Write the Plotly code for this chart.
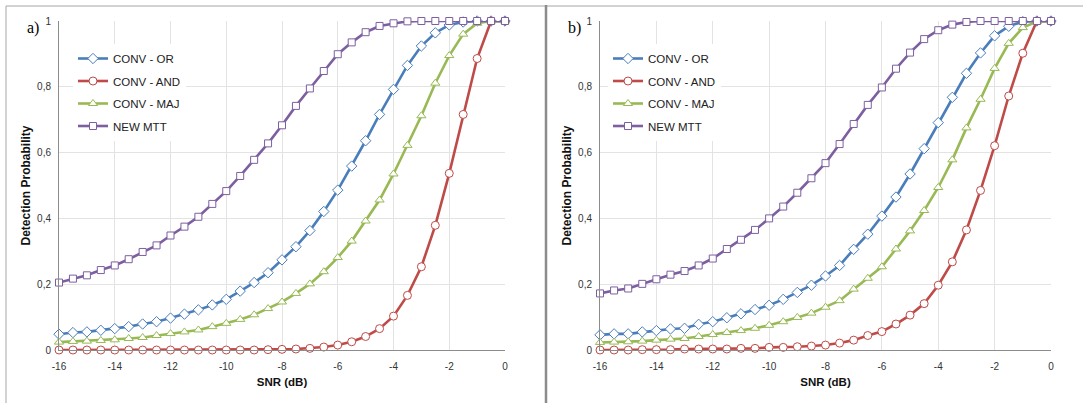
import plotly.graph_objects as go

# ---------------- data ----------------
snr = [-16, -15.5, -15, -14.5, -14, -13.5, -13, -12.5, -12, -11.5, -11, -10.5,
       -10, -9.5, -9, -8.5, -8, -7.5, -7, -6.5, -6, -5.5, -5, -4.5, -4, -3.5,
       -3, -2.5, -2, -1.5, -1, -0.5, 0]

series_names = ["CONV - OR", "CONV - AND", "CONV - MAJ", "NEW MTT"]

# panel a)
a_or = [0.048, 0.053, 0.055, 0.060, 0.065, 0.071, 0.079, 0.086, 0.097, 0.109, 0.122, 0.137,
        0.154, 0.179, 0.205, 0.235, 0.274, 0.314, 0.363, 0.421, 0.486, 0.559, 0.636, 0.716,
        0.792, 0.865, 0.924, 0.964, 0.988, 0.997, 1.0, 1.0, 1.0]
a_and = [0.0, 0.0, 0.0, 0.0, 0.0, 0.0, 0.0, 0.0, 0.0, 0.0, 0.0, 0.0,
         0.0, 0.0, 0.0, 0.001, 0.002, 0.003, 0.005, 0.009, 0.015, 0.025, 0.041, 0.065,
         0.103, 0.166, 0.253, 0.379, 0.537, 0.716, 0.886, 1.0, 1.0]
a_maj = [0.024, 0.026, 0.027, 0.029, 0.031, 0.035, 0.038, 0.044, 0.050, 0.055, 0.061, 0.071,
         0.081, 0.093, 0.107, 0.126, 0.146, 0.172, 0.201, 0.238, 0.281, 0.331, 0.392, 0.456,
         0.535, 0.622, 0.712, 0.811, 0.895, 0.960, 0.993, 1.0, 1.0]
a_mtt = [0.205, 0.217, 0.227, 0.243, 0.257, 0.276, 0.298, 0.318, 0.348, 0.375, 0.405, 0.444,
         0.483, 0.529, 0.578, 0.628, 0.683, 0.742, 0.795, 0.848, 0.899, 0.935, 0.966, 0.985,
         0.993, 0.999, 1.0, 1.0, 1.0, 1.0, 1.0, 1.0, 1.0]

# panel b)
b_or = [0.046, 0.049, 0.049, 0.055, 0.059, 0.064, 0.066, 0.078, 0.086, 0.098, 0.110, 0.123,
        0.136, 0.154, 0.175, 0.197, 0.225, 0.257, 0.306, 0.352, 0.407, 0.465, 0.535, 0.612,
        0.691, 0.768, 0.841, 0.903, 0.955, 0.984, 0.998, 1.0, 1.0]
b_and = [0.0, 0.0, 0.0, 0.001, 0.001, 0.001, 0.003, 0.003, 0.003, 0.003, 0.005, 0.005,
         0.008, 0.008, 0.010, 0.012, 0.015, 0.021, 0.030, 0.044, 0.056, 0.079, 0.106, 0.141,
         0.197, 0.268, 0.365, 0.485, 0.621, 0.772, 0.902, 1.0, 1.0]
b_maj = [0.023, 0.024, 0.025, 0.027, 0.030, 0.033, 0.035, 0.041, 0.047, 0.053, 0.059, 0.066,
         0.075, 0.086, 0.099, 0.112, 0.130, 0.150, 0.185, 0.218, 0.253, 0.307, 0.362, 0.424,
         0.494, 0.578, 0.675, 0.762, 0.856, 0.932, 0.980, 0.998, 1.0]
b_mtt = [0.172, 0.181, 0.187, 0.201, 0.215, 0.229, 0.240, 0.257, 0.278, 0.307, 0.335, 0.365,
         0.400, 0.436, 0.478, 0.522, 0.568, 0.626, 0.687, 0.745, 0.798, 0.855, 0.904, 0.945,
         0.972, 0.989, 0.997, 1.0, 1.0, 1.0, 1.0, 1.0, 1.0]

x_tickvals = [-16, -14, -12, -10, -8, -6, -4, -2, 0]
x_ticktext = ["-16", "-14", "-12", "-10", "-8", "-6", "-4", "-2", "0"]
y_tickvals = [0, 0.2, 0.4, 0.6, 0.8, 1.0]
y_ticktext = ["0", "0,2", "0,4", "0,6", "0,8", "1"]

panel_labels = ["a)", "b)"]
x_title = "SNR (dB)"
y_title = "Detection Probability"

# ---------------- style ----------------
W, H = 1083, 403
colors = ["#4A7EBB", "#BE4B48", "#98B954", "#7D5FA0"]
symbols = ["diamond", "circle", "triangle-up", "square"]
msizes = [8, 8, 8, 7]

def px_x(p):
    return p / W

def px_y(p):
    return 1 - p / H

fig = go.Figure()

panels = [
    (("x", "y"), "legend", [a_or, a_and, a_maj, a_mtt]),
    (("x2", "y2"), "legend2", [b_or, b_and, b_maj, b_mtt]),
]
for (xa, ya), leg, data in panels:
    for i, (name, vals) in enumerate(zip(series_names, data)):
        fig.add_trace(go.Scatter(
            x=snr, y=vals, name=name, mode="lines+markers",
            xaxis=xa, yaxis=ya, legend=leg, legendgroup=leg + str(i),
            line=dict(color=colors[i], width=2.6),
            marker=dict(symbol=symbols[i], size=msizes[i], color="white",
                        line=dict(color=colors[i], width=1)),
            cliponaxis=False,
        ))

tick_font = dict(family="Liberation Sans", size=10, color="#333333")
title_font = dict(family="Liberation Sans", size=11.5, color="#111111", weight="bold")

def xaxis_cfg(domain):
    return dict(
        domain=domain, range=[-16, 0], tickvals=x_tickvals, ticktext=x_ticktext,
        showgrid=True, gridcolor="#E3E3E3", gridwidth=1, automargin=False,
        showline=True, linecolor="#8C8C8C", linewidth=1, zeroline=False,
        ticks="", tickfont=tick_font, ticklabelstandoff=7,
        title=dict(text=x_title, font=title_font, standoff=6),
    )

def yaxis_cfg(anchor):
    return dict(
        domain=[px_y(350), px_y(21)], range=[0, 1], anchor=anchor, automargin=False,
        tickvals=y_tickvals, ticktext=y_ticktext,
        showgrid=True, gridcolor="#E3E3E3", gridwidth=1,
        showline=True, linecolor="#8C8C8C", linewidth=1, zeroline=False,
        ticks="", tickfont=tick_font, ticklabelstandoff=5,
        title=dict(text=y_title, font=dict(family="Liberation Sans", size=12,
                                           color="#111111", weight="bold"), standoff=3),
    )

leg_font = dict(family="Liberation Sans", size=11.5, color="#222222")

fig.update_layout(
    template="none",
    width=W, height=H, autosize=False,
    margin=dict(l=0, r=0, t=0, b=0, autoexpand=False),
    paper_bgcolor="white", plot_bgcolor="white",
    xaxis=dict(xaxis_cfg([px_x(59), px_x(505)]), anchor="y"),
    yaxis=yaxis_cfg("x"),
    xaxis2=dict(xaxis_cfg([px_x(600), px_x(1051)]), anchor="y2"),
    yaxis2=yaxis_cfg("x2"),
    legend=dict(x=px_x(73), y=px_y(44), xanchor="left", yanchor="top",
                bgcolor="white", font=leg_font, tracegroupgap=3.5,
                itemclick=False),
    legend2=dict(x=px_x(608), y=px_y(44), xanchor="left", yanchor="top",
                 bgcolor="white", font=leg_font, tracegroupgap=3.5,
                 itemclick=False),
    showlegend=True,
)

# panel frames
frame = "#A6A6A6"
fig.add_shape(type="line", xref="paper", yref="paper", x0=px_x(6), x1=px_x(6),
              y0=px_y(6), y1=0, line=dict(color=frame, width=1))
fig.add_shape(type="line", xref="paper", yref="paper", x0=px_x(6), x1=px_x(546),
              y0=px_y(6), y1=px_y(6), line=dict(color=frame, width=1))
fig.add_shape(type="line", xref="paper", yref="paper", x0=px_x(546), x1=1,
              y0=px_y(6), y1=px_y(6), line=dict(color=frame, width=1))
fig.add_shape(type="line", xref="paper", yref="paper", x0=px_x(546), x1=px_x(546),
              y0=px_y(5), y1=0, line=dict(color="#8C8C8C", width=2.5))

# panel labels
for lab, xp in zip(panel_labels, [33, 574]):
    fig.add_annotation(text=lab, xref="paper", yref="paper", x=px_x(xp), y=px_y(28),
                       showarrow=False, xanchor="center", yanchor="middle",
                       font=dict(family="Liberation Serif", size=16, color="black"))

fig.write_html("out.html", config={"displayModeBar": False},
               post_script="document.body.style.margin='0px';document.body.style.overflow='hidden';")
